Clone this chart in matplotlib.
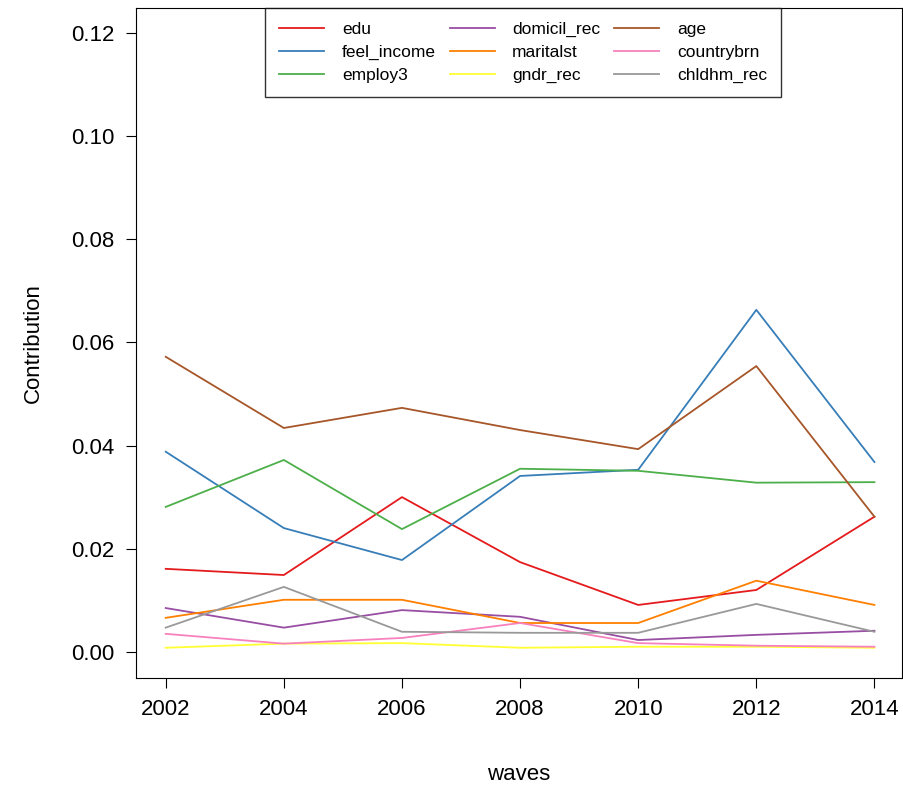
import matplotlib
matplotlib.use("Agg")
import matplotlib.pyplot as plt

waves = [2002, 2004, 2006, 2008, 2010, 2012, 2014]
names = ["edu", "feel_income", "employ3", "domicil_rec", "maritalst", "gndr_rec", "age", "countrybrn", "chldhm_rec"]
edu = [0.0161, 0.0149, 0.0300, 0.0174, 0.0091, 0.0120, 0.0262]
feel_income = [0.0388, 0.0240, 0.0178, 0.0341, 0.0353, 0.0663, 0.0368]
employ3 = [0.0281, 0.0372, 0.0238, 0.0355, 0.0351, 0.0328, 0.0329]
domicil_rec = [0.0085, 0.0047, 0.0081, 0.0068, 0.0023, 0.0033, 0.0041]
maritalst = [0.0066, 0.0101, 0.0101, 0.0056, 0.0056, 0.0138, 0.0091]
gndr_rec = [0.0008, 0.0016, 0.0017, 0.0008, 0.0010, 0.0010, 0.0008]
age = [0.0572, 0.0434, 0.0473, 0.0430, 0.0393, 0.0554, 0.0262]
countrybrn = [0.0035, 0.0016, 0.0027, 0.0056, 0.0017, 0.0012, 0.0010]
chldhm_rec = [0.0047, 0.0126, 0.0039, 0.0037, 0.0037, 0.0093, 0.0039]
series = [edu, feel_income, employ3, domicil_rec, maritalst, gndr_rec, age, countrybrn, chldhm_rec]
colors = ["#E41A1C", "#377EB8", "#4DAF4A", "#984EA3", "#FF7F00", "#FFFF33", "#A65628", "#F781BF", "#999999"]

plt.rcParams['font.family'] = ['Liberation Sans', 'DejaVu Sans']
fig = plt.figure(figsize=(9.04, 8.02), dpi=100)
ax = fig.add_axes([0.150, 0.155, 0.848, 0.835])
for n, s, c in zip(names, series, colors):
    ax.plot(waves, s, color=c, lw=1.3, label=n)
ax.set_xlim(2001.49, 2014.47)
ax.set_ylim(-0.005, 0.1248)
ax.set_xticks(waves)
ax.set_yticks([0, 0.02, 0.04, 0.06, 0.08, 0.10, 0.12])
ax.set_yticklabels(["0.00", "0.02", "0.04", "0.06", "0.08", "0.10", "0.12"])
ax.tick_params(labelsize=16, length=7, pad=8)
ax.set_xlabel("waves", fontsize=16, labelpad=32)
ax.set_ylabel("Contribution", fontsize=16, labelpad=20)
leg = ax.legend(loc="upper center", bbox_to_anchor=(0.5055, 1.0), borderaxespad=0, ncol=3, fontsize=12.5,
                frameon=True, fancybox=False, edgecolor="black", handlelength=2.6,
                columnspacing=0.8, borderpad=0.8, labelspacing=0.45, handletextpad=1.0)
leg.get_frame().set_linewidth(1.0)
fig.savefig("out.png", dpi=100)
